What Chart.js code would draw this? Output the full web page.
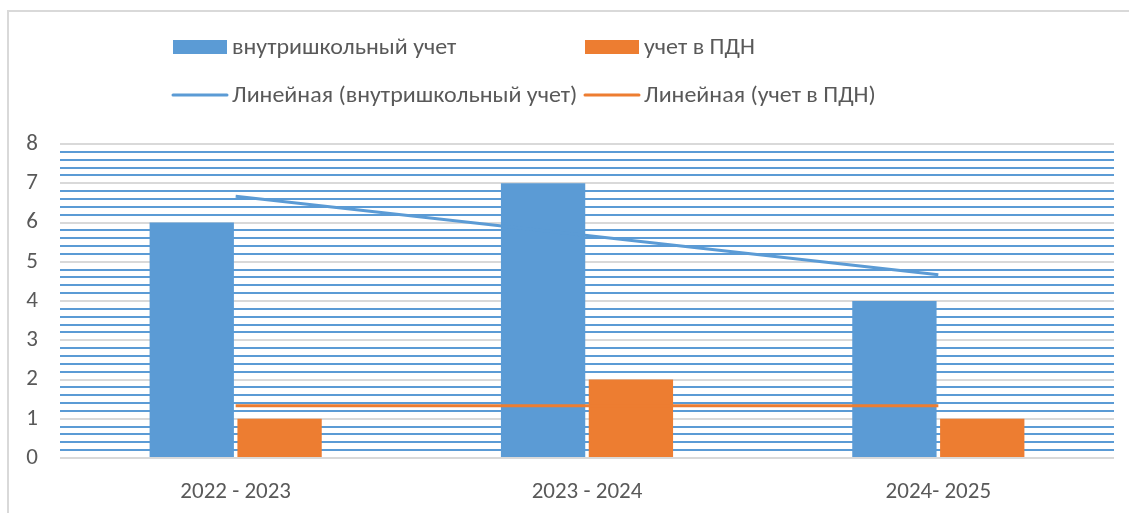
<!DOCTYPE html>
<html>
<head>
<meta charset="utf-8">
<script src="https://cdn.jsdelivr.net/npm/chart.js@4"></script>
<style>
  html, body { margin: 0; padding: 0; background: #fff; }
  #wrap { position: absolute; left: 0; top: 0; width: 1129px; height: 513px; }
  #frame { position: absolute; left: 7px; top: 10px; width: 1122px; height: 503px;
           border-left: 2px solid #d9d9d9; border-top: 2px solid #d9d9d9; box-sizing: border-box; }
</style>
</head>
<body>
<div id="wrap">
  <div id="frame"></div>
  <canvas id="myChart" width="1129" height="513"></canvas>
</div>
<script>
const years = ["2022 - 2023", "2023 - 2024", "2024- 2025"];
const schoolCount = [6, 7, 4];
const pdnCount = [1, 2, 1];
const schoolTrend = [6.67, 5.67, 4.67];
const pdnTrend = [1.33, 1.33, 1.33];

const blue = "#5b9bd5";
const orange = "#ed7d31";
const textColor = "#595959";
const fontFamily = "Carlito, 'Liberation Sans', sans-serif";

// legend drawn in Excel style: two fixed columns, two rows
const legendPlugin = {
  id: "excelLegend",
  afterDraw(chart) {
    let ctx = chart.ctx;
    let sets = chart.data.datasets;
    let cols = [173, 585];
    let rows = [47, 95];
    ctx.save();
    ctx.font = "22px " + fontFamily;
    ctx.textBaseline = "middle";
    sets.forEach((ds, i) => {
      let x = cols[i % 2];
      let y = rows[Math.floor(i / 2)];
      if (ds.type === "line") {
        ctx.strokeStyle = ds.borderColor;
        ctx.lineWidth = 3;
        ctx.lineCap = "round";
        ctx.beginPath();
        ctx.moveTo(x, y);
        ctx.lineTo(x + 54, y);
        ctx.stroke();
      } else {
        ctx.fillStyle = ds.backgroundColor;
        ctx.fillRect(x, y - 7, 54, 14);
      }
      // text in the reference is a bit wider than Carlito
      ctx.save();
      ctx.translate(x + 59, y + 1);
      ctx.scale(1.09, 1);
      ctx.fillStyle = textColor;
      ctx.fillText(ds.label, 0, 0);
      ctx.restore();
    });
    ctx.restore();
  }
};

function isMajor(v) {
  return Math.abs(v - Math.round(v)) < 1e-6;
}

let ctx = document.getElementById("myChart").getContext("2d");
let chart = new Chart(ctx, {
  type: "bar",
  data: {
    labels: years,
    datasets: [
      {
        type: "bar",
        label: "внутришкольный учет",
        data: schoolCount,
        backgroundColor: blue,
        categoryPercentage: 0.5,
        barPercentage: 0.96,
        order: 3
      },
      {
        type: "bar",
        label: "учет в ПДН",
        data: pdnCount,
        backgroundColor: orange,
        categoryPercentage: 0.5,
        barPercentage: 0.96,
        order: 4
      },
      {
        type: "line",
        label: "Линейная (внутришкольный учет)",
        data: schoolTrend,
        borderColor: blue,
        borderWidth: 3,
        pointRadius: 0,
        order: 1
      },
      {
        type: "line",
        label: "Линейная (учет в ПДН)",
        data: pdnTrend,
        borderColor: orange,
        borderWidth: 3,
        pointRadius: 0,
        order: 2
      }
    ]
  },
  options: {
    responsive: false,
    animation: false,
    layout: { padding: { top: 144, left: 10, right: 15, bottom: 0 } },
    plugins: { legend: { display: false }, tooltip: { enabled: false } },
    scales: {
      x: {
        grid: { display: false },
        border: { display: false },
        ticks: { color: textColor, font: { family: fontFamily, size: 23 }, padding: 12 },
        afterFit: s => { s.height = 55; }
      },
      y: {
        min: 0,
        max: 8,
        border: { display: false },
        grid: {
          color: c => (isMajor(c.tick.value) ? "#d9d9d9" : blue),
          lineWidth: 2,
          drawTicks: false
        },
        ticks: {
          stepSize: 0.2,
          autoSkip: false,
          color: textColor,
          font: { family: fontFamily, size: 23 },
          padding: 22,
          callback: v => (isMajor(v) ? String(Math.round(v)) : "")
        },
        afterFit: s => { s.width = 50; }
      }
    }
  },
  plugins: [legendPlugin]
});
</script>
</body>
</html>
